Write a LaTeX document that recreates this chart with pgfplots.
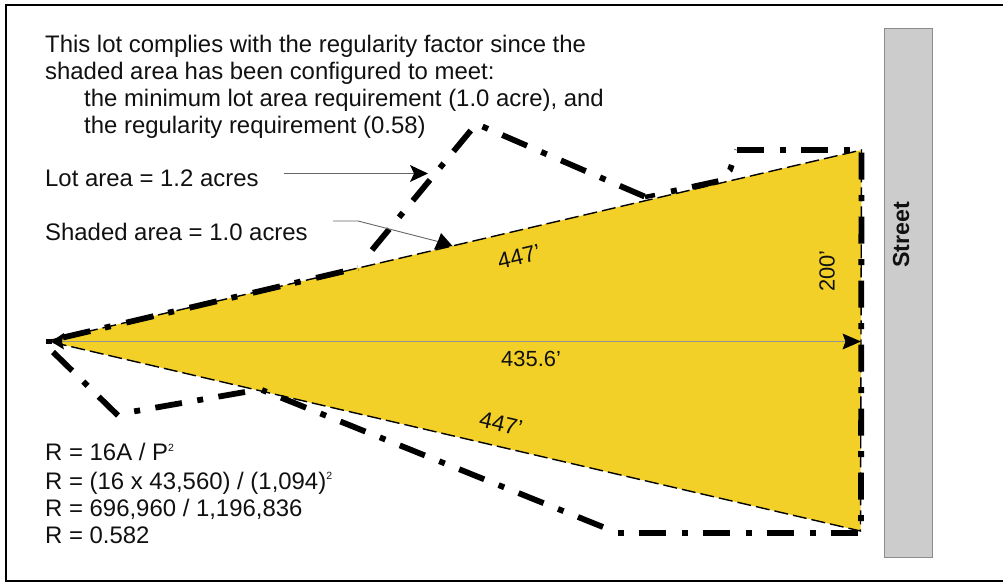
\documentclass[border=0pt]{standalone}
\usepackage{pgfplots}
\pgfplotsset{compat=1.18}
\usepackage{fontspec}
\setmainfont{Liberation Sans}
\definecolor{lotyellow}{HTML}{F3D027}
\definecolor{txt}{HTML}{111111}
\newcommand{\lfont}{\fontsize{24}{27}\selectfont}
\newcommand{\sq}{\raisebox{9.5pt}{\fontsize{10.5}{10}\selectfont 2}}
\tikzset{lab/.style={anchor=base west,inner sep=0pt,text=txt,font=\lfont}}
\pgfplotsset{
  lot/.style={black,line width=5.8bp,dash pattern=on 27bp off 15.5bp on 6bp off 15.5bp},
  lotb/.style={black,line width=5.8bp,dash pattern=on 6bp off 15.5bp on 27bp off 15.5bp},
}
\begin{document}
\begin{tikzpicture}
\begin{axis}[
  scale only axis,width=1003bp,height=582bp,
  xmin=0,xmax=1003,ymin=0,ymax=582,y dir=reverse,
  axis lines=none,clip=true,
  every axis plot/.append style={line cap=butt,line join=miter},
]
% page
\addplot[draw=none,fill=white] coordinates {(0,0)(1003,0)(1003,582)(0,582)} -- cycle;
% frame
\addplot[black,line width=2bp] coordinates {(1003,5)(6,5)(6,581)(1003,581)};
% street
\addplot[draw=black!45,fill=black!20,line width=1bp] coordinates {(884.5,29)(932.5,29)(932.5,557.5)(884.5,557.5)} -- cycle;
% shaded area
\addplot[draw=none,fill=lotyellow] coordinates {(47,341)(861.5,150)(860.5,531)} -- cycle;
% shaded outline
\addplot[black,line width=1.4bp,dash pattern=on 14bp off 5bp] coordinates {(47,341)(861.5,150)(860.5,531)(47,341)};
% lot outline, side by side
\addplot[black,line width=5.8bp,dash pattern=on 28bp off 15bp on 6bp off 16bp] coordinates {(63,337.5)(358,268)};
\addplot[lot] coordinates {(372,250)(477,123)};
\addplot[lotb] coordinates {(482.5,126.5)(648,198)};
\addplot[black,line width=4.5bp] coordinates {(645,197)(655,195)};
\addplot[lotb] coordinates {(671,191.5)(719,181)(730,170)(737,150)};
\addplot[lot] coordinates {(737,150)(862,150)};
\addplot[lot] coordinates {(861.5,152.5)(861,525)};
\addplot[lot] coordinates {(858,533)(617,533)};
\addplot[lot] coordinates {(603,527)(262,390)};
\addplot[lot] coordinates {(245,392)(119,414)};
\addplot[lot] coordinates {(118,415.5)(53,352)};
\addplot[black,line width=5.4bp] coordinates {(46,341.3)(52,341.3)};
% dimension line
\addplot[black!42,line width=0.8bp] coordinates {(60,341.5)(848,341.5)};
\addplot[draw=none,fill=black] coordinates {(51,341.5)(64,333)(62,341.5)(64,349.5)} -- cycle;
\addplot[draw=none,fill=black] coordinates {(861,341.5)(842.5,333.5)(845.5,341.5)(842.5,349.5)} -- cycle;
% leaders
\addplot[black!60,line width=0.9bp] coordinates {(284,173)(415,173)};
\addplot[draw=none,fill=black] coordinates {(428,173.5)(410,165)(414,173.5)(410,182)} -- cycle;
\addplot[black!60,line width=0.9bp] coordinates {(333,221)(358,221)(438,241.5)};
\addplot[draw=none,fill=black] coordinates {(452.5,246)(441,233)(438,241)(434,249.5)} -- cycle;
% text
\node[lab] at (axis cs:45,52.7) {This lot complies with the regularity factor since the};
\node[lab] at (axis cs:45,80) {shaded area has been configured to meet:};
\node[lab] at (axis cs:84,106.7) {the minimum lot area requirement (1.0 acre), and};
\node[lab] at (axis cs:84,133) {the regularity requirement (0.58)};
\node[lab] at (axis cs:45,186.7) {Lot area = 1.2 acres};
\node[lab] at (axis cs:45,240.7) {Shaded area = 1.0 acres};
\node[lab] at (axis cs:45,460.7) {R = 16A / P\sq};
\node[lab] at (axis cs:45,489) {R = (16 x 43,560) / (1,094)\sq};
\node[lab] at (axis cs:45,516) {R = 696,960 / 1,196,836};
\node[lab] at (axis cs:45,543) {R = 0.582};
\node[lab] at (axis cs:501,366) {\fontsize{22}{24}\selectfont 435.6’};
\node[lab,anchor=center,rotate=13] at (axis cs:519,257) {\fontsize{23}{24}\selectfont 447’};
\node[lab,anchor=center,rotate=-13] at (axis cs:501,424) {\fontsize{23}{24}\selectfont 447’};
\node[lab,anchor=center,rotate=90] at (axis cs:827,271) {\fontsize{22}{24}\selectfont 200’};
\node[lab,anchor=center,rotate=90] at (axis cs:901,235) {\fontsize{23.3}{25}\selectfont\bfseries Street};
\end{axis}
\end{tikzpicture}
\end{document}
